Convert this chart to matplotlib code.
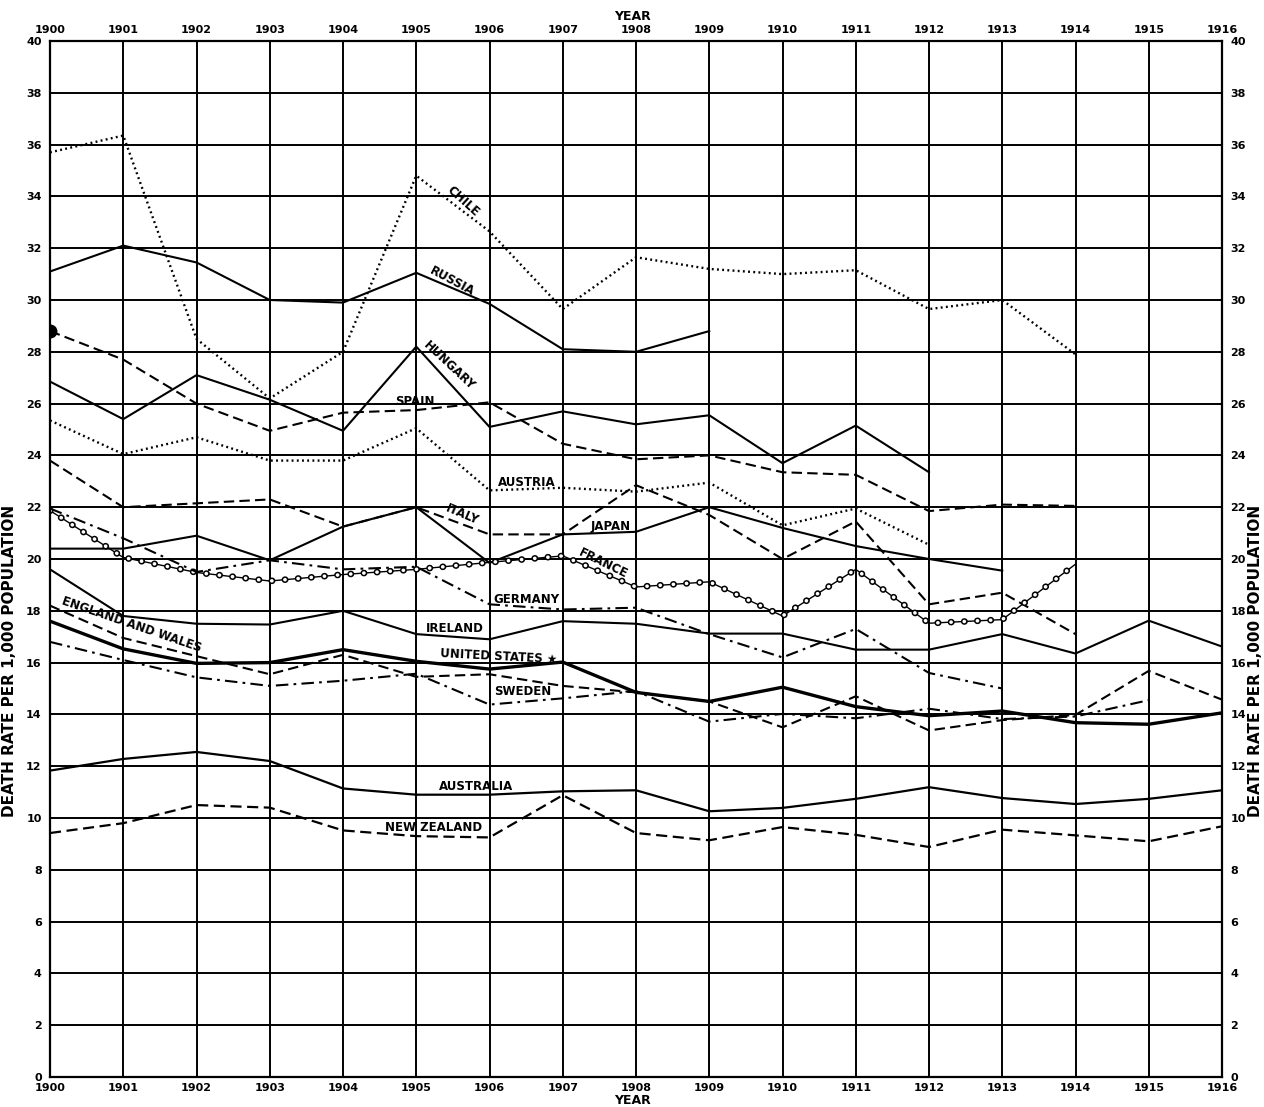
import numpy as np
import matplotlib
matplotlib.use("Agg")
import matplotlib.pyplot as plt

nan = np.nan
years = list(range(1900, 1917))

chile   = [35.7, 36.35, 28.5, 26.2, 28.0, 34.8, 32.65, 29.65, 31.65, 31.2, 31.0, 31.15, 29.65, 30.0, 27.9, nan, nan]
russia  = [31.1, 32.1, 31.45, 30.0, 29.9, 31.05, 29.85, 28.1, 28.0, 28.8, nan, nan, nan, nan, nan, nan, nan]
hungary = [26.85, 25.4, 27.1, 26.15, 24.95, 28.2, 25.1, 25.7, 25.2, 25.55, 23.7, 25.15, 23.35, nan, nan, nan, nan]
spain   = [28.8, 27.7, 26.0, 24.95, 25.65, 25.75, 26.05, 24.45, 23.85, 24.0, 23.35, 23.25, 21.85, 22.1, 22.05, nan, nan]
austria = [25.35, 24.05, 24.7, 23.8, 23.8, 25.05, 22.65, 22.75, 22.6, 22.95, 21.3, 21.95, 20.55, nan, nan, nan, nan]
italy   = [23.8, 22.0, 22.15, 22.3, 21.25, 22.0, 20.95, 20.95, 22.85, 21.7, 20.0, 21.45, 18.25, 18.7, 17.1, nan, nan]
japan   = [20.4, 20.4, 20.9, 19.95, 21.25, 22.0, 19.85, 20.95, 21.05, 22.0, 21.2, 20.5, 20.0, 19.55, nan, nan, nan]
france  = [21.87, 20.06, 19.48, 19.15, 19.4, 19.6, 19.87, 20.12, 18.92, 19.12, 17.8, 19.6, 17.52, 17.66, 19.8, nan, nan]
germany = [21.95, 20.8, 19.5, 19.95, 19.6, 19.7, 18.25, 18.05, 18.12, 17.1, 16.2, 17.3, 15.6, 15.0, nan, nan, nan]
ireland = [19.6, 17.8, 17.5, 17.47, 18.0, 17.1, 16.9, 17.6, 17.5, 17.12, 17.12, 16.5, 16.5, 17.1, 16.35, 17.62, 16.62]
eng_wales = [18.2, 16.95, 16.25, 15.55, 16.3, 15.45, 15.55, 15.1, 14.85, 14.5, 13.5, 14.7, 13.38, 13.78, 13.98, 15.68, 14.57]
united_states = [17.6, 16.53, 15.97, 16.0, 16.5, 16.05, 15.75, 16.02, 14.85, 14.5, 15.05, 14.3, 13.95, 14.13, 13.68, 13.62, 14.06]
sweden  = [16.8, 16.1, 15.43, 15.1, 15.3, 15.57, 14.38, 14.62, 14.9, 13.72, 14.02, 13.85, 14.22, 13.82, 13.92, 14.55, nan]
australia = [11.83, 12.28, 12.55, 12.2, 11.14, 10.9, 10.9, 11.03, 11.07, 10.26, 10.39, 10.74, 11.19, 10.77, 10.54, 10.74, 11.07]
new_zealand = [9.42, 9.8, 10.5, 10.4, 9.52, 9.3, 9.25, 10.88, 9.42, 9.14, 9.65, 9.35, 8.88, 9.55, 9.33, 9.1, 9.68]

y_ticks = list(range(0, 41, 2))

W, H = 1264, 1107
fig = plt.figure(figsize=(W / 100, H / 100), dpi=100)
ax = fig.add_axes([50 / W, 30 / H, 1172 / W, 1036 / H])
ax.set_xlim(1900, 1916)
ax.set_ylim(0, 40)

ax.set_xticks(years)
ax.set_xticklabels([str(y) for y in years])
ax.set_yticks(y_ticks)
ax.set_yticklabels([str(v) for v in y_ticks])
ax.grid(True, color="black", linewidth=1.4)
ax.set_axisbelow(True)
for s in ax.spines.values():
    s.set_linewidth(1.6)
ax.tick_params(axis="both", length=0, labelsize=8, labeltop=True, labelright=True)
ax.tick_params(axis="x", pad=4)
ax.tick_params(axis="y", pad=6)
for tick in ax.xaxis.get_major_ticks() + ax.yaxis.get_major_ticks():
    tick.label1.set_fontweight("bold")
    tick.label2.set_fontweight("bold")

k = "black"
dotted = (0, (0.8, 1.4))
dashed = (0, (5, 2.5))
dashdot = (0, (6, 2.5, 1.3, 2.5))

ax.plot(years, chile, color=k, lw=1.7, ls=dotted)
ax.plot(years, russia, color=k, lw=1.5, ls="-")
ax.plot(years, hungary, color=k, lw=1.5, ls="-")
ax.plot(years, spain, color=k, lw=1.5, ls=dashed, marker="o", markersize=9, markevery=[0])
ax.plot(years, austria, color=k, lw=1.7, ls=dotted)
ax.plot(years, italy, color=k, lw=1.5, ls=dashed)
ax.plot(years, japan, color=k, lw=1.5, ls="-")
# France: chain of small open circles along the line
ax.plot(years, france, color=k, lw=1.0, ls="-")
step = 9.5
ax.plot(years, france, color=k, lw=4.8, ls=(0, (0.05, step / 4.8 - 0.05)),
        dash_capstyle="round")
ax.plot(years, france, color="white", lw=2.6, ls=(0, (0.05, step / 2.6 - 0.05)),
        dash_capstyle="round")
ax.plot(years, germany, color=k, lw=1.5, ls=dashdot)
ax.plot(years, ireland, color=k, lw=1.5, ls="-")
ax.plot(years, eng_wales, color=k, lw=1.5, ls=dashed)
ax.plot(years, united_states, color=k, lw=2.4, ls="-")
ax.plot(years, sweden, color=k, lw=1.5, ls=dashdot)
ax.plot(years, australia, color=k, lw=1.6, ls="-")
ax.plot(years, new_zealand, color=k, lw=1.6, ls=dashed)

fs = 8.5
labels = [
    ("CHILE", 1905.64, 33.8, -42),
    ("RUSSIA", 1905.49, 30.73, -28),
    ("HUNGARY", 1905.45, 27.45, -43),
    ("SPAIN", 1904.98, 26.1, 0),
    ("AUSTRIA", 1906.51, 22.97, 0),
    ("ITALY", 1905.63, 21.73, -23),
    ("JAPAN", 1907.65, 21.27, 0),
    ("FRANCE", 1907.55, 19.83, -26),
    ("GERMANY", 1906.5, 18.45, 0),
    ("IRELAND", 1905.52, 17.33, 0),
    ("UNITED STATES \u2605", 1906.12, 16.22, -3),
    ("SWEDEN", 1906.45, 14.9, 0),
    ("ENGLAND AND WALES", 1901.12, 17.45, -19),
    ("AUSTRALIA", 1905.82, 11.23, 0),
    ("NEW ZEALAND", 1905.24, 9.65, 0),
]
for txt, x, y, rot in labels:
    ax.text(x, y, txt, fontsize=fs, fontweight="bold", ha="center", va="center",
            rotation=rot, rotation_mode="anchor", color=k)

ylab = "DEATH RATE PER 1,000 POPULATION"
fig.text(10 / W, 1 - 661 / H, ylab, fontsize=11, fontweight="bold", rotation=90,
         ha="center", va="center")
fig.text(1256 / W, 1 - 661 / H, ylab, fontsize=11, fontweight="bold", rotation=90,
         ha="center", va="center")
fig.text(0.5, 1 - 17 / H, "YEAR", fontsize=9, fontweight="bold", ha="center", va="center")
fig.text(0.5, 1 - 1101 / H, "YEAR", fontsize=9, fontweight="bold", ha="center", va="center")

fig.savefig("out.png", dpi=100)
